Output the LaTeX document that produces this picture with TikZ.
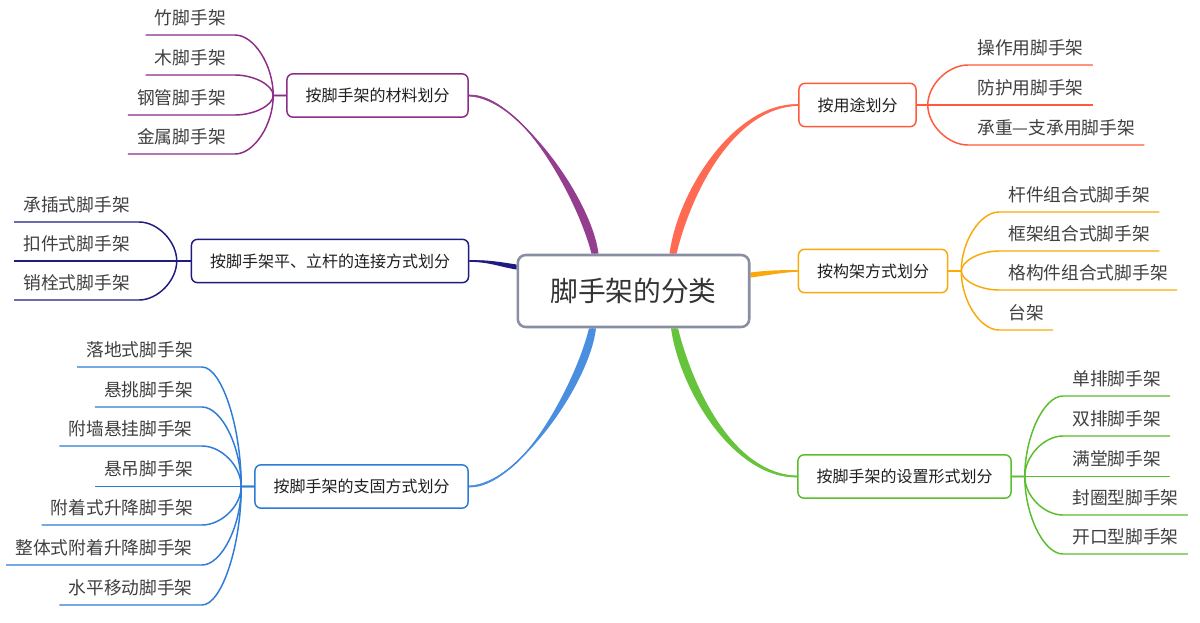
\documentclass[tikz,border=0pt]{standalone}
\usepackage{fontspec}
\setmainfont{Noto Sans CJK SC}
\usetikzlibrary{calc,backgrounds}
\definecolor{cPurple}{HTML}{8C2D87}
\definecolor{cPurpleF}{HTML}{943E8F}
\definecolor{cOrange}{HTML}{FF5A3C}
\definecolor{cOrangeF}{HTML}{FF6A52}
\definecolor{cYellow}{HTML}{FBA90A}
\definecolor{cNavy}{HTML}{1F1C80}
\definecolor{cBlue}{HTML}{2E7CD6}
\definecolor{cBlueF}{HTML}{4A8EDF}
\definecolor{cGreen}{HTML}{5BBE2E}
\definecolor{cGreenF}{HTML}{66C43C}
\definecolor{cRoot}{HTML}{8A8EA3}
\definecolor{cText}{HTML}{333333}
\definecolor{cLeaf}{HTML}{404040}
\begin{document}
\begin{tikzpicture}[x=0.75pt,y=-0.75pt,
  rootbox/.style={draw=cRoot, line width=1.9pt, rounded corners=6pt, fill=white,
    font=\fontsize{20.8}{24}\selectfont, text=cText, inner xsep=24.4pt, inner ysep=0pt, minimum height=54pt},
  branch/.style={rounded corners=4.5pt, line width=1.1pt, fill=white,
    font=\fontsize{12}{14}\selectfont, text=black!88, inner xsep=13.9pt, inner ysep=0pt, minimum height=32.5pt},
  leafR/.style={anchor=south west, inner xsep=6.75pt, inner ysep=0pt, minimum height=25.5pt,
    font=\fontsize{13.3}{15}\selectfont, text=cLeaf},
  leafL/.style={leafR, anchor=south east},
  leafline/.style={line width=1.1pt},
  mainline/.style={line width=1.1pt},
  leafcurve/.style={to path={.. controls ($(\tikztostart)!.5!(\tikztostart|-\tikztotarget)$) and ($(\tikztostart|-\tikztotarget)!.5!(\tikztotarget)$) .. (\tikztotarget)}}
]
\useasboundingbox (0,0) rectangle (1200,622);

% central and branch nodes
\node[rootbox] (root) at (633.5,291) {脚手架的分类};
\node[branch,draw=cPurple] (mat) at (377.5,95.5) {按脚手架的材料划分};
\node[branch,draw=cOrange] (use) at (857.5,105) {按用途划分};
\node[branch,draw=cNavy] (conn) at (330,261) {按脚手架平、立杆的连接方式划分};
\node[branch,draw=cYellow] (struct) at (873,271) {按构架方式划分};
\node[branch,draw=cBlue] (sup) at (361.5,486.5) {按脚手架的支固方式划分};
\node[branch,draw=cGreen] (set) at (904.5,476.5) {按脚手架的设置形式划分};

% junctions
\coordinate (jM) at ($(mat.west)+(-13,0)$);
\coordinate (jU) at ($(use.east)+(11,0)$);
\coordinate (jC) at ($(conn.west)+(-14,0)$);
\coordinate (jS) at ($(struct.east)+(13,0)$);
\coordinate (jB) at ($(sup.west)+(-13,0)$);
\coordinate (jG) at ($(set.east)+(13,0)$);

% leaves
\node[leafL] (m1) at (235,35) {竹脚手架};
\node[leafL] (m2) at (235,75) {木脚手架};
\node[leafL] (m3) at (235,115) {钢管脚手架};
\node[leafL] (m4) at (235,154) {金属脚手架};

\node[leafR] (u1) at (968,65) {操作用脚手架};
\node[leafR] (u2) at (968,105) {防护用脚手架};
\node[leafR] (u3) at (968,145) {承重—支承用脚手架};

\node[leafL] (c1) at (139,222) {承插式脚手架};
\node[leafL] (c2) at (139,261) {扣件式脚手架};
\node[leafL] (c3) at (139,300) {销栓式脚手架};

\node[leafR] (s1) at (999,212) {杆件组合式脚手架};
\node[leafR] (s2) at (999,251) {框架组合式脚手架};
\node[leafR] (s3) at (999,290) {格构件组合式脚手架};
\node[leafR] (s4) at (999,330) {台架};

\node[leafL] (b1) at (202,367) {落地式脚手架};
\node[leafL] (b2) at (202,407) {悬挑脚手架};
\node[leafL] (b3) at (202,446) {附墙悬挂脚手架};
\node[leafL] (b4) at (202,486.5) {悬吊脚手架};
\node[leafL] (b5) at (202,525) {附着式升降脚手架};
\node[leafL] (b6) at (202,565) {整体式附着升降脚手架};
\node[leafL] (b7) at (202,605) {水平移动脚手架};

\node[leafR] (g1) at (1063,396) {单排脚手架};
\node[leafR] (g2) at (1063,436) {双排脚手架};
\node[leafR] (g3) at (1063,476.5) {满堂脚手架};
\node[leafR] (g4) at (1063,515) {封圈型脚手架};
\node[leafR] (g5) at (1063,554) {开口型脚手架};

\begin{pgfonlayer}{background}
\fill[white] (0,0) rectangle (1200,622);

% main tapered connectors (centre stroke + tapered fill)
\draw[mainline,cPurple] ($(root.north)+(-38.5,0)$) .. controls (585,200) and (520,95.5) .. (mat.east);
\fill[cPurpleF] ($(root.north)+(-42,0)$) .. controls (578,200) and (520,93) .. ($(mat.east)+(0,-0.8)$)
  -- ($(mat.east)+(0,0.8)$) .. controls (520,98) and (592,200) .. ($(root.north)+(-35,0)$) -- cycle;

\draw[mainline,cOrange] ($(root.north)+(39.5,0)$) .. controls (685,190) and (735,105) .. (use.west);
\fill[cOrangeF] ($(root.north)+(36,0)$) .. controls (678,190) and (735,102.5) .. ($(use.west)+(0,-0.8)$)
  -- ($(use.west)+(0,0.8)$) .. controls (735,107.5) and (692,190) .. ($(root.north)+(43,0)$) -- cycle;

\draw[mainline,cBlue] ($(root.south)+(-41,0)$) .. controls (583,382) and (520,486.5) .. (sup.east);
\fill[cBlueF] ($(root.south)+(-44.5,0)$) .. controls (576,382) and (520,489) .. ($(sup.east)+(0,0.8)$)
  -- ($(sup.east)+(0,-0.8)$) .. controls (520,484) and (590,382) .. ($(root.south)+(-37.5,0)$) -- cycle;

\draw[mainline,cGreen] ($(root.south)+(41,0)$) .. controls (687,392) and (735,476.5) .. (set.west);
\fill[cGreenF] ($(root.south)+(37.5,0)$) .. controls (680,392) and (735,479) .. ($(set.west)+(0,0.8)$)
  -- ($(set.west)+(0,-0.8)$) .. controls (735,474) and (694,392) .. ($(root.south)+(44.5,0)$) -- cycle;

\draw[mainline,cNavy] ($(root.west)+(0,-24)$) .. controls (500,263) and (490,261) .. (conn.east);
\fill[cNavy] ($(root.west)+(0,-26.5)$) .. controls (500,262) and (490,260) .. ($(conn.east)+(0,-0.8)$)
  -- ($(conn.east)+(0,0.8)$) .. controls (490,262) and (500,267) .. ($(root.west)+(0,-21.5)$) -- cycle;

\draw[mainline,cYellow] ($(root.east)+(0,-16)$) .. controls (770,272.5) and (785,271) .. (struct.west);
\fill[cYellow] ($(root.east)+(0,-18.5)$) .. controls (770,270) and (785,270) .. ($(struct.west)+(0,-0.8)$)
  -- ($(struct.west)+(0,0.8)$) .. controls (785,272) and (770,275) .. ($(root.east)+(0,-13.5)$) -- cycle;

% leaf connectors
\foreach \l in {m1,m2,m3,m4}
  \draw[leafline,cPurple] (mat.west) -- (jM) to[leafcurve] (\l.south east) -- (\l.south west);
\foreach \l in {u1,u2,u3}
  \draw[leafline,cOrange] (use.east) -- (jU) to[leafcurve] (\l.south west) -- (\l.south east);
\foreach \l in {c1,c2,c3}
  \draw[leafline,cNavy] (conn.west) -- (jC) to[leafcurve] (\l.south east) -- (\l.south west);
\foreach \l in {s1,s2,s3,s4}
  \draw[leafline,cYellow] (struct.east) -- (jS) to[leafcurve] (\l.south west) -- (\l.south east);
\foreach \l in {b1,b2,b3,b4,b5,b6,b7}
  \draw[leafline,cBlue] (sup.west) -- (jB) to[leafcurve] (\l.south east) -- (\l.south west);
\foreach \l in {g1,g2,g3,g4,g5}
  \draw[leafline,cGreen] (set.east) -- (jG) to[leafcurve] (\l.south west) -- (\l.south east);
\end{pgfonlayer}
\end{tikzpicture}
\end{document}
